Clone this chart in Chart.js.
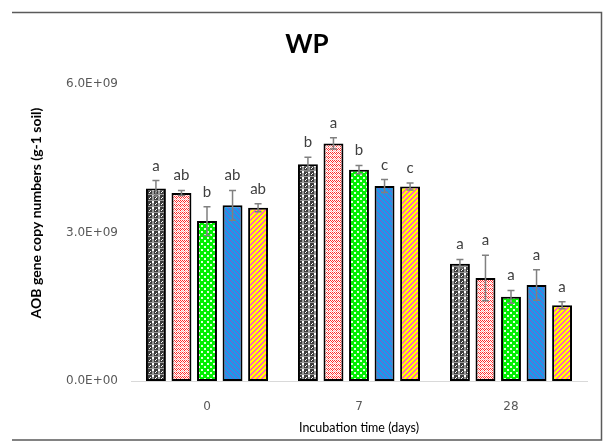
<!DOCTYPE html>
<html>
<head>
<meta charset="utf-8">
<script src="https://cdn.jsdelivr.net/npm/chart.js@4.4.1/dist/chart.umd.min.js"></script>
<style>
  html, body { margin: 0; padding: 0; background: #ffffff; }
  #wrap { width: 605px; height: 444px; position: relative; }
</style>
</head>
<body>
<div id="wrap"><canvas id="c" width="605" height="444"></canvas></div>
<script>
// ---- Data ----
const categories = ['0', '7', '28'];
const seriesNames = ['Treatment 1', 'Treatment 2', 'Treatment 3', 'Treatment 4', 'Treatment 5'];
const series1 = [3.89e9, 4.38e9, 2.37e9];
const series2 = [3.80e9, 4.80e9, 2.08e9];
const series3 = [3.23e9, 4.27e9, 1.70e9];
const series4 = [3.55e9, 3.94e9, 1.94e9];
const series5 = [3.50e9, 3.93e9, 1.53e9];
const error1 = [0.16e9, 0.14e9, 0.085e9];
const error2 = [0.05e9, 0.115e9, 0.46e9];
const error3 = [0.29e9, 0.085e9, 0.13e9];
const error4 = [0.30e9, 0.13e9, 0.31e9];
const error5 = [0.08e9, 0.07e9, 0.07e9];
const letters1 = ['a', 'b', 'a'];
const letters2 = ['ab', 'a', 'a'];
const letters3 = ['b', 'b', 'a'];
const letters4 = ['ab', 'c', 'a'];
const letters5 = ['ab', 'c', 'a'];
const yTicks = [0, 3e9, 6e9];
const chartTitle = 'WP';
const xTitle = 'Incubation time (days)';
const yTitle = 'AOB gene copy numbers (g-1 soil)';

// ---- Patterns ----
function makeTile(w, h, draw) {
  const c = document.createElement('canvas');
  c.width = w; c.height = h;
  const g = c.getContext('2d');
  draw(g);
  return document.getElementById('c').getContext('2d').createPattern(c, 'repeat');
}
const patBlack = makeTile(6, 6, g => {
  g.fillStyle = '#3c3c3c'; g.fillRect(0, 0, 6, 6);
  g.fillStyle = '#9a9a9a'; g.fillRect(2, 0, 2, 6); g.fillRect(0, 2, 6, 1);
  g.fillStyle = '#ffffff'; g.fillRect(2, 3, 2, 2); g.fillRect(5, 0, 1, 1); g.fillRect(0, 5, 1, 1);
});
const patRed = makeTile(4, 4, g => {
  g.fillStyle = '#ffffff'; g.fillRect(0, 0, 4, 4);
  g.fillStyle = '#ff2a2a';
  g.fillRect(0, 0, 1, 1); g.fillRect(2, 0, 1, 1); g.fillRect(1, 1, 1, 1); g.fillRect(3, 1, 1, 1);
  g.fillRect(0, 2, 1, 1);
  g.fillStyle = '#ffb0b0'; g.fillRect(2, 2, 1, 1); g.fillRect(1, 3, 1, 1); g.fillRect(3, 3, 1, 1);
});
const patGreen = makeTile(6, 6, g => {
  g.fillStyle = '#00f000'; g.fillRect(0, 0, 6, 6);
  g.fillStyle = '#e0ffe0'; g.fillRect(0, 0, 2, 2); g.fillRect(3, 3, 2, 2);
});
const patBlue = makeTile(5, 5, g => {
  g.fillStyle = '#1c98ea'; g.fillRect(0, 0, 5, 5);
  g.fillStyle = '#8458c8';
  for (let i = 0; i < 5; i++) { g.fillRect(i, i, 1, 1); }
});
const patYellow = makeTile(5, 5, g => {
  g.fillStyle = '#ffff00'; g.fillRect(0, 0, 5, 5);
  g.fillStyle = '#ff55c4';
  for (let i = 0; i < 5; i++) { g.fillRect((4 - i), i, 1, 1); g.fillRect((5 - i) % 5, i, 1, 1); }
});

const seriesValues = [series1, series2, series3, series4, series5];
const seriesErrors = [error1, error2, error3, error4, error5];
const seriesLetters = [letters1, letters2, letters3, letters4, letters5];
const seriesFills = [patBlack, patRed, patGreen, patBlue, patYellow];

const datasets = seriesValues.map((vals, i) => ({
  label: seriesNames[i],
  data: vals,
  errors: seriesErrors[i],
  letters: seriesLetters[i],
  backgroundColor: seriesFills[i],
  borderColor: '#000000',
  borderWidth: 2,
  borderSkipped: false,
  categoryPercentage: 0.84,
  barPercentage: 0.78
}));

// ---- Plugins ----
const errorBarPlugin = {
  id: 'errorBars',
  afterDatasetsDraw(chart) {
    const ctx = chart.ctx;
    const yScale = chart.scales.y;
    chart.data.datasets.forEach((ds, di) => {
      const meta = chart.getDatasetMeta(di);
      meta.data.forEach((bar, i) => {
        const v = ds.data[i], e = ds.errors[i];
        const yTop = yScale.getPixelForValue(v + e);
        const yBot = yScale.getPixelForValue(v - e);
        ctx.save();
        ctx.strokeStyle = '#808080';
        ctx.lineWidth = 1.5;
        ctx.beginPath();
        ctx.moveTo(bar.x, yTop); ctx.lineTo(bar.x, yBot);
        ctx.moveTo(bar.x - 3.5, yTop); ctx.lineTo(bar.x + 3.5, yTop);
        ctx.moveTo(bar.x - 3.5, yBot); ctx.lineTo(bar.x + 3.5, yBot);
        ctx.stroke();
        ctx.fillStyle = '#404040';
        ctx.font = '15px Lato, "Liberation Sans", Arial, sans-serif';
        ctx.textAlign = 'center';
        ctx.textBaseline = 'alphabetic';
        ctx.fillText(ds.letters[i], bar.x, yTop - 10);
        ctx.restore();
      });
    });
  }
};

const framePlugin = {
  id: 'frame',
  afterDraw(chart) {
    const ctx = chart.ctx;
    ctx.save();
    ctx.strokeStyle = '#5a5a5a';
    ctx.lineWidth = 1.5;
    ctx.beginPath();
    ctx.moveTo(12, 12.5); ctx.lineTo(601.5, 12.5); ctx.lineTo(601.5, 440); ctx.lineTo(12, 440);
    ctx.stroke();
    ctx.fillStyle = '#000000';
    ctx.font = 'bold 26px Lato, "Open Sans", sans-serif';
    ctx.textAlign = 'center';
    ctx.textBaseline = 'middle';
    ctx.fillText(chartTitle, 307, 45);
    // y-axis title (offset above the plot centre, as in the reference)
    ctx.translate(36, 213);
    ctx.rotate(-Math.PI / 2);
    ctx.font = 'bold 14px Lato, "Open Sans", sans-serif';
    ctx.fillText(yTitle, 0, 0);
    ctx.restore();
  }
};

const tickFont = { family: '"DejaVu Sans", sans-serif', size: 12 };

new Chart(document.getElementById('c'), {
  type: 'bar',
  data: { labels: categories, datasets },
  plugins: [errorBarPlugin, framePlugin],
  options: {
    responsive: false,
    animation: false,
    devicePixelRatio: 1,
    layout: { padding: { top: 84, right: 18, left: 0, bottom: 0 } },
    plugins: { legend: { display: false }, title: { display: false }, tooltip: { enabled: false } },
    scales: {
      x: {
        grid: { display: false, drawTicks: false },
        border: { display: true, color: '#d9d9d9', width: 1 },
        ticks: { padding: 19, font: tickFont, color: '#595959' },
        title: { display: true, text: xTitle, color: '#000000',
                 font: { family: 'Lato, "Open Sans", sans-serif', size: 12.5 }, padding: { top: 0, bottom: 9 } },
        afterFit(s) { s.height = 63; }
      },
      y: {
        min: 0, max: 6e9,
        grid: { display: false, drawTicks: false },
        border: { display: false },
        afterBuildTicks(s) { s.ticks = yTicks.map(v => ({ value: v })); },
        ticks: {
          padding: 13, font: tickFont, color: '#595959',
          callback: v => {
            const s = Number(v).toExponential(1).toUpperCase();
            const m = s.match(/^([\d.]+)E([+-])(\d+)$/);
            return m ? m[1] + 'E' + m[2] + m[3].padStart(2, '0') : s;
          }
        },
        title: { display: false },
        afterFit(s) { s.width = 131; }
      }
    }
  }
});
</script>
</body>
</html>
